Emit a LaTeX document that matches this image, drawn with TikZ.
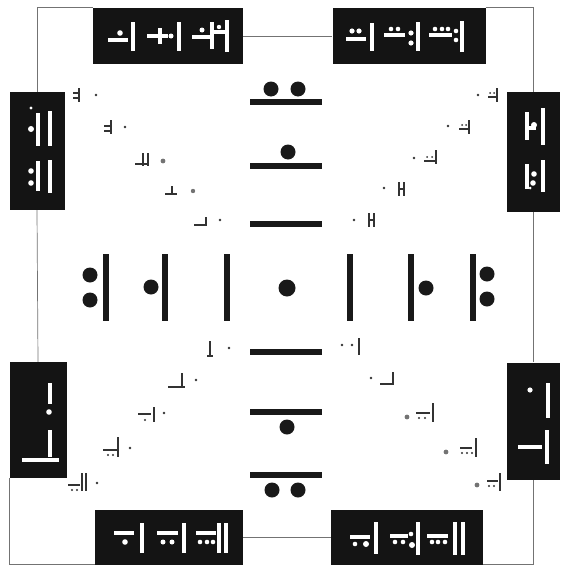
\documentclass[tikz,border=0pt]{standalone}
\usepackage{tikz}
\usetikzlibrary{positioning, calc}

\begin{document}
\begin{tikzpicture}[
  x=1pt, y=-1pt,
  panel/.style={fill=black!92, inner sep=0pt},
  hpanel/.style={panel, minimum width=150pt, minimum height=56pt},
  vpanel/.style={panel, minimum width=55pt, minimum height=118pt},
  rim/.style={draw=black!55, line width=0.7pt},
  bigbar/.style={line width=6.8pt, black!90, rounded corners=1pt},
  bigdot/.style={fill=black!90},
  wbar/.style={white, line width=3.2pt},
  wdot/.style={fill=white},
  tbar/.style={line width=1.7pt, black!80},
  tdot/.style={fill=black!80},
  gdot/.style={fill=black!55}
]
\useasboundingbox[fill=white] (0,0) rectangle (560,570);

\node[hpanel] (topleft) at (168,36) {};
\node[hpanel, minimum width=153pt] (topright) at (409,36) {};
\node[vpanel] (lefttop) at (37,151) {};
\node[vpanel, minimum width=53pt, minimum height=120pt] (righttop) at (533.5,152) {};
\node[vpanel, minimum width=57pt, minimum height=116pt] (leftbot) at (38,420) {};
\node[vpanel, minimum width=53pt, minimum height=117pt] (rightbot) at (533.5,421) {};
\node[hpanel, minimum width=148pt, minimum height=55pt] (botleft) at (169,537) {};
\node[hpanel, minimum width=152pt, minimum height=55pt] (botright) at (407,537) {};

\draw[rim] (topleft.east) -- (topright.west);
\draw[rim] (botleft.east) -- (botright.west);
\draw[rim] (lefttop.south) -- (leftbot.north);
\draw[rim] (righttop.south) -- (rightbot.north);
\draw[rim] (topleft.north west) -| (lefttop.north);
\draw[rim] (topright.north east) -| (righttop.north);
\draw[rim] (botleft.south west) -| (leftbot.south west);
\draw[rim] (botright.south east) -| (rightbot.south);

% centre column
\fill[bigdot] (271,89) circle[radius=7.5pt] (298,89) circle[radius=7.5pt];
\draw[bigbar] (250,102) -- (322,102);
\fill[bigdot] (288,152) circle[radius=7.5pt];
\draw[bigbar] (250,166) -- (322,166);
\draw[bigbar] (250,224) -- (322,224);
\fill[bigdot] (287,288) circle[radius=8.5pt];
\draw[bigbar] (250,352) -- (322,352);
\draw[bigbar] (250,412) -- (322,412);
\fill[bigdot] (287,427) circle[radius=7.5pt];
\draw[bigbar] (250,475) -- (322,475);
\fill[bigdot] (272,490) circle[radius=7.5pt] (298,490) circle[radius=7.5pt];

% centre row
\fill[bigdot] (90,275) circle[radius=7.5pt] (90,300) circle[radius=7.5pt];
\draw[bigbar] (106,254) -- (106,321);
\fill[bigdot] (151,287) circle[radius=7.5pt];
\draw[bigbar] (165,254) -- (165,321);
\draw[bigbar] (227,254) -- (227,321);
\draw[bigbar] (350,254) -- (350,321);
\draw[bigbar] (411,254) -- (411,321);
\fill[bigdot] (426,288) circle[radius=7.5pt];
\draw[bigbar] (473,254) -- (473,321);
\fill[bigdot] (487,274) circle[radius=7.5pt] (487,299) circle[radius=7.5pt];

% top panels
\draw[wbar] (108,40) -- (128,40);
\fill[wdot] (120,33) circle[radius=2.8pt];
\draw[wbar] (133,22) -- (133,51);
\draw[wbar] (147,36) -- (168,36);
\draw[wbar] (160,28) -- (160,44);
\fill[wdot] (171,36) circle[radius=2.5pt];
\draw[wbar] (179,22) -- (179,51);
\draw[wbar] (192,37) -- (210,37);
\fill[wdot] (202,30) circle[radius=2.5pt];
\draw[wbar] (212,22) -- (212,49);
\draw[wbar] (212,32) -- (226,32);
\fill[wdot] (219,27) circle[radius=2.2pt];
\draw[wbar] (227,20) -- (227,52);

\fill[wdot] (352,31) circle[radius=2.6pt] (359,31) circle[radius=2.6pt];
\draw[wbar] (346,39) -- (366,39);
\draw[wbar] (372,23) -- (372,51);
\draw[wbar] (384,35) -- (405,35);
\fill[wdot] (391,29) circle[radius=2.3pt] (398,29) circle[radius=2.3pt];
\fill[wdot] (411,33) circle[radius=2.6pt] (411,43) circle[radius=2.6pt];
\draw[wbar] (418,22) -- (418,51);
\draw[wbar] (429,35) -- (452,35);
\fill[wdot] (435,29) circle[radius=2.3pt] (442,29) circle[radius=2.3pt] (448,29) circle[radius=2.3pt];
\fill[wdot] (456,31) circle[radius=2.3pt] (456,40) circle[radius=2.3pt];
\draw[wbar] (462,21) -- (462,52);

% side panels
\fill[wdot] (31,108) circle[radius=1.6pt];
\fill[wdot] (31,129) circle[radius=3pt];
\draw[wbar] (38,113) -- (38,146);
\draw[wbar] (50,111) -- (50,146);
\fill[wdot] (31,171) circle[radius=2.8pt] (31,183) circle[radius=2.8pt];
\draw[wbar] (38,161) -- (38,191);
\draw[wbar] (50,160) -- (50,193);

\draw[wbar] (527,112) -- (527,140);
\draw[wbar] (527,128) -- (536,128);
\fill[wdot] (534,125) circle[radius=3pt];
\draw[wbar] (543,108) -- (543,145);
\draw[wbar] (527,164) -- (527,189);
\fill[wdot] (534,174) circle[radius=2.8pt] (533,183) circle[radius=2.8pt] (530,188) circle[radius=1.5pt];
\draw[wbar] (543,160) -- (543,192);

\draw[wbar] (50,383) -- (50,404);
\fill[wdot] (49,412) circle[radius=2.8pt];
\draw[wbar] (50,430) -- (50,457);
\draw[wbar] (22,460) -- (59,460);

\fill[wdot] (530,390) circle[radius=2.6pt];
\draw[wbar] (548,383) -- (548,418);
\draw[wbar] (547,430) -- (547,464);
\draw[wbar] (518,447) -- (542,447);

% bottom panels
\draw[wbar] (114,533) -- (134,533);
\fill[wdot] (125,542) circle[radius=2.8pt];
\draw[wbar] (142,523) -- (142,553);
\draw[wbar] (157,533) -- (178,533);
\fill[wdot] (163,542) circle[radius=2.5pt] (172,542) circle[radius=2.5pt];
\draw[wbar] (184,523) -- (184,553);
\draw[wbar] (196,533) -- (216,533);
\fill[wdot] (200,542) circle[radius=2.3pt] (207,542) circle[radius=2.3pt] (213,542) circle[radius=2.3pt];
\draw[wbar] (219,523) -- (219,553);
\draw[wbar] (226,523) -- (226,553);

\draw[wbar] (350,537) -- (370,537);
\fill[wdot] (355,544) circle[radius=2.3pt] (366,544) circle[radius=3pt];
\draw[wbar] (376,522) -- (376,554);
\draw[wbar] (390,536) -- (408,536);
\fill[wdot] (395,542) circle[radius=2.3pt] (403,542) circle[radius=2.3pt];
\fill[wdot] (411,534) circle[radius=2.3pt] (412,545) circle[radius=3pt];
\draw[wbar] (418,522) -- (418,555);
\draw[wbar] (427,536) -- (448,536);
\fill[wdot] (432,542) circle[radius=2.3pt] (438,542) circle[radius=2.3pt] (445,542) circle[radius=2.3pt];
\draw[wbar] (455,522) -- (455,555);
\draw[wbar] (463,522) -- (463,555);

% diagonals, upper left
\draw[tbar] (73,93) -- (79,93) (73,98) -- (79,98) (79,88) -- (79,102);
\fill[tdot] (96,95) circle[radius=1.4pt];
\draw[tbar] (104,126) -- (111,126) (104,131) -- (111,131) (111,120) -- (111,134);
\fill[tdot] (125,127) circle[radius=1.4pt];
\draw[tbar] (135,164) -- (148,164) (143,153) -- (143,166) (148,153) -- (148,166);
\fill[gdot] (163,161) circle[radius=2.4pt];
\draw[tbar] (165,194) -- (177,194) (172,186) -- (172,194);
\fill[gdot] (193,191) circle[radius=2.2pt];
\draw[tbar] (194,225) -- (206,225) (206,217) -- (206,226);
\fill[tdot] (220,220) circle[radius=1.4pt];

% diagonals, upper right
\fill[tdot] (478,95) circle[radius=1.4pt];
\draw[tbar] (488,97) -- (497,97) (497,88) -- (497,102);
\fill[tdot] (490,93) circle[radius=1pt] (494,93) circle[radius=1pt];
\fill[tdot] (448,126) circle[radius=1.4pt];
\draw[tbar] (459,129) -- (469,129) (469,120) -- (469,134);
\fill[tdot] (462,125) circle[radius=1pt] (466,125) circle[radius=1pt];
\fill[tdot] (414,158) circle[radius=1.4pt];
\draw[tbar] (424,161) -- (436,161) (436,150) -- (436,164);
\fill[tdot] (427,157) circle[radius=1pt] (432,157) circle[radius=1pt];
\fill[tdot] (384,188) circle[radius=1.4pt];
\draw[tbar] (399,182) -- (399,196) (404,182) -- (404,196) (399,189) -- (404,189);
\fill[tdot] (354,220) circle[radius=1.4pt];
\draw[tbar] (369,213) -- (369,227) (374,213) -- (374,227) (369,220) -- (374,220);

% diagonals, lower left
\draw[tbar] (210,341) -- (210,356) (207,356) -- (213,356);
\fill[tdot] (229,348) circle[radius=1.4pt];
\draw[tbar] (168,387) -- (185,387) (182,373) -- (182,387);
\fill[tdot] (196,380) circle[radius=1.4pt];
\draw[tbar] (138,414) -- (151,414) (154,407) -- (154,422);
\fill[tdot] (145,420) circle[radius=1.1pt];
\fill[tdot] (164,413) circle[radius=1.4pt];
\draw[tbar] (103,450) -- (117,450) (118,437) -- (118,457);
\fill[tdot] (108,455) circle[radius=1.1pt] (113,455) circle[radius=1.1pt];
\fill[tdot] (130,448) circle[radius=1.4pt];
\draw[tbar] (68,485) -- (80,485) (82,473) -- (82,491) (86,473) -- (86,491);
\fill[tdot] (72,490) circle[radius=1.1pt] (77,490) circle[radius=1.1pt];
\fill[tdot] (97,483) circle[radius=1.4pt];

% diagonals, lower right
\fill[tdot] (342,345) circle[radius=1.4pt] (352,345) circle[radius=1.4pt];
\draw[tbar] (359,338) -- (359,355);
\fill[tdot] (371,378) circle[radius=1.4pt];
\draw[tbar] (380,384) -- (393,384) (393,372) -- (393,385);
\fill[gdot] (407,417) circle[radius=2.4pt];
\draw[tbar] (416,413) -- (430,413) (433,403) -- (433,422);
\fill[tdot] (419,418) circle[radius=1.1pt] (425,418) circle[radius=1.1pt];
\fill[gdot] (446,452) circle[radius=2.4pt];
\draw[tbar] (460,448) -- (472,448) (476,438) -- (476,457);
\fill[tdot] (462,453) circle[radius=1.1pt] (467,453) circle[radius=1.1pt] (472,453) circle[radius=1.1pt];
\fill[gdot] (477,485) circle[radius=2.4pt];
\draw[tbar] (487,481) -- (498,481) (500,473) -- (500,491);
\fill[tdot] (489,486) circle[radius=1.1pt] (494,486) circle[radius=1.1pt];
\end{tikzpicture}
\end{document}
